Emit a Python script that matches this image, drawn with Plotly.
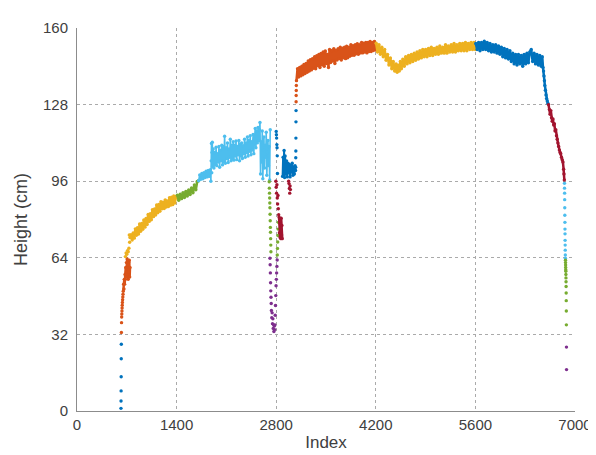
import plotly.graph_objects as go

# ---------------- data (index, height in cm) ----------------
# left rising part
blue_a_x = [618, 619, 620, 621, 622, 623]
blue_a_y = [1.1, 4.2, 8.4, 14.3, 21.8, 27.9]

orange_a_dots_x = [624, 626, 628, 630, 632, 634, 636, 638, 641, 644, 647]
orange_a_dots_y = [32.8, 36.9, 39.3, 40.5, 41.8, 43.0, 44.2, 45.3, 46.5, 47.6, 48.8]
orange_a_x = [650, 655, 660, 665, 670, 675, 680, 685, 690, 695, 700, 705, 710, 715, 720, 725, 730, 735, 740, 745]
orange_a_y = [50, 53, 51, 55, 53, 57, 55, 60, 56, 62, 58, 63.5, 57, 61, 55, 62, 58, 63, 56, 60]

yellow_a_dots_x = [680, 690, 700, 710, 720, 730, 735, 740, 745]
yellow_a_dots_y = [64.5, 66, 65.5, 67, 66.5, 68, 73.5, 70.5, 72.5]
yellow_a_x = [760, 775, 790, 805, 820, 835, 850, 865, 880, 895, 910, 925, 940, 955, 970, 985, 1000,
              1015, 1030, 1045, 1060, 1075, 1090, 1105, 1120, 1135, 1150, 1165, 1180, 1195, 1210,
              1225, 1240, 1255, 1270, 1285, 1300, 1315, 1330, 1345, 1360, 1375, 1390, 1410]
yellow_a_y = [73.6, 71.4, 74.4, 72.2, 76.1, 73.4, 76.6, 73.9, 78.1, 75.1, 78.3, 75.9, 79.8, 76.8, 80.4, 77.9, 82.1,
              79.2, 82.4, 79.9, 84.1, 81.2, 84.4, 81.9, 86.1, 82.8, 86.3, 83.4, 87.4, 84.5, 87.2,
              84.6, 88.2, 85.2, 87.8, 85.4, 89.1, 86.0, 89.3, 86.2, 89.8, 86.9, 89.6, 89.0]

green_a_x = [1410, 1430, 1450, 1470, 1490, 1510, 1530, 1550, 1570, 1590, 1610, 1630, 1650, 1670, 1690, 1710]
green_a_y = [90.2, 88.0, 90.6, 88.7, 91.2, 89.2, 91.7, 89.8, 92.3, 90.4, 93.2, 91.2, 94.4, 92.4, 95.9, 96.2]

lightblue_a_x = [1710, 1725, 1740, 1755, 1770, 1785, 1800, 1815, 1830, 1845, 1860, 1875,
                 1882, 1886, 1890, 1894, 1898, 1902, 1906,
                 1915, 1925, 1935, 1945, 1955, 1965, 1975, 1985, 1995, 2005, 2015, 2025, 2035, 2045,
                 2055, 2065, 2075, 2085, 2095, 2105, 2115, 2125, 2135, 2145, 2155, 2165, 2175, 2185, 2195,
                 2205, 2215, 2225, 2235, 2245, 2255, 2265, 2275, 2285, 2295, 2305, 2315, 2325, 2335, 2345,
                 2355, 2365, 2375, 2385, 2395, 2405, 2415, 2425, 2435, 2445, 2455, 2465, 2475, 2485, 2495,
                 2505, 2515, 2525, 2535, 2545, 2555, 2565, 2572,
                 2580, 2588, 2596, 2604, 2612, 2620, 2628, 2636, 2644, 2652, 2660, 2668, 2676, 2684,
                 2692, 2700, 2708, 2716]
lightblue_a_y = [96.2, 98.6, 96.8, 99.2, 97.0, 99.6, 97.5, 100.2, 97.8, 100.5, 98.0, 100.8,
                 96.0, 104.5, 111.8, 99.5, 108.0, 112.3, 102.0,
                 109.5, 101.5, 108.0, 103.0, 110.2, 102.5, 107.5, 104.0, 110.5, 101.8, 109.0, 104.5, 111.0, 102.8,
                 110.5, 104.0, 114.8, 103.5, 110.0, 105.5, 112.0, 103.8, 109.5, 106.0, 113.5, 104.5, 111.0, 105.5, 112.5,
                 104.8, 111.0, 106.5, 112.8, 105.0, 110.5, 107.0, 113.0, 104.5, 111.5, 106.5, 112.0, 105.5, 110.8, 107.5,
                 113.5, 106.0, 112.0, 108.0, 114.5, 106.5, 113.0, 108.5, 115.0, 107.0, 112.5, 109.0, 115.5, 107.5, 113.5,
                 118.0, 110.0, 117.0, 112.0, 118.5, 113.0, 117.5, 120.5,
                 99.0, 112.5, 104.0, 117.0, 97.0, 109.0, 114.5, 101.5, 111.0, 106.0, 116.5, 98.5, 108.0, 113.0,
                 102.5, 110.5, 96.5, 117.5]

# middle dip
green_b_x = [2702, 2704, 2706, 2708, 2710, 2712, 2714, 2716, 2718, 2720, 2722, 2724, 2726]
green_b_y = [95.8, 93.1, 91.0, 89.0, 86.9, 84.9, 82.2, 79.5, 76.7, 74.7, 72.0, 69.3, 66.5]

purple_a_x = [2712, 2715, 2718, 2721, 2724, 2727, 2730,
              2733, 2738, 2743, 2748, 2753, 2758, 2763, 2768, 2773, 2778,
              2782, 2786, 2790, 2794, 2798, 2802, 2806, 2810, 2814]
purple_a_y = [63.8, 61.1, 57.7, 53.6, 50.2, 47.5, 44.9,
              42.0, 39.0, 41.0, 36.5, 38.5, 34.5, 36.0, 33.2, 35.5, 34.0,
              35.9, 40.0, 44.1, 48.2, 52.3, 55.0, 57.7, 60.4, 63.1]

green_c_x = [2815, 2818, 2821, 2824, 2827, 2830]
green_c_y = [65.2, 67.9, 70.6, 73.3, 76.0, 78.8]

darkred_a_dots_x = [2795, 2800, 2805, 2810, 2815, 2820, 2825, 2830, 2835, 2975, 2980, 2985, 2990, 2995, 3000]
darkred_a_dots_y = [96.0, 93.5, 91.0, 94.5, 89.0, 86.5, 90.0, 84.5, 82.0, 96.0, 95.0, 93.0, 91.0, 94.0, 92.5]
darkred_a_x = [2840, 2845, 2850, 2855, 2860, 2865, 2870, 2875, 2880, 2885]
darkred_a_y = [81.0, 74.5, 79.5, 72.5, 78.0, 72.0, 80.5, 73.5, 77.5, 72.0]

blue_b_dots_x = [2800, 2803, 2806, 2809, 2812, 2815, 2818, 3074, 3075, 3076, 3077, 3078, 3079]
blue_b_dots_y = [116.8, 115.4, 114.0, 111.3, 110.0, 106.6, 99.2, 101.8, 105.8, 108.6, 114.0, 120.8, 125.5]
blue_b_x = [2890, 2897, 2904, 2911, 2918, 2925, 2935, 2945, 2955, 2965, 2975, 2985, 2995, 3005, 3015,
            3025, 3035, 3045, 3055, 3065, 3072]
blue_b_y = [98.0, 106.0, 99.0, 108.8, 97.5, 106.5, 99.0, 104.5, 97.8, 103.5, 99.5, 103.0, 97.8, 102.5, 99.8,
            103.5, 98.5, 102.0, 99.0, 102.5, 100.5]

# upper plateau
orange_b_dots_x = [3080, 3081, 3082, 3083]
orange_b_dots_y = [129.2, 131.8, 133.9, 136.0]
orange_b_x = [3085, 3100, 3115, 3130, 3145, 3160, 3175, 3190, 3205, 3220, 3235, 3250, 3265, 3280, 3295,
              3310, 3325, 3340, 3355, 3370, 3385, 3400, 3415, 3430, 3445, 3460, 3475, 3490, 3505, 3520,
              3535, 3550, 3565, 3580, 3595, 3610, 3625, 3640, 3655, 3670, 3685, 3700, 3715, 3730, 3745,
              3760, 3775, 3790, 3805, 3820, 3835, 3850, 3865, 3880, 3895, 3910, 3925, 3940, 3955, 3970,
              3985, 4000, 4015, 4030, 4045, 4060, 4075, 4090, 4105, 4120, 4135, 4150, 4165, 4180, 4195]
orange_b_y = [138.0, 143.0, 139.5, 143.5, 140.0, 144.0, 140.5, 144.8, 141.0, 145.2, 141.5, 146.2, 142.0, 146.8, 142.5,
              147.2, 143.2, 148.0, 143.0, 148.4, 144.2, 149.0, 143.5, 149.4, 144.6, 150.0, 144.0, 150.4, 145.2, 149.0,
              143.5, 151.0, 145.6, 150.6, 146.2, 151.4, 145.2, 150.6, 146.6, 151.4, 147.2, 152.0, 146.6, 151.6, 147.6,
              152.0, 147.2, 152.4, 147.6, 152.0, 148.2, 153.0, 148.6, 152.6, 148.6, 153.0, 149.2, 153.4, 149.0, 153.0,
              149.6, 154.0, 149.6, 153.6, 150.0, 154.0, 149.6, 154.0, 150.2, 154.4, 150.2, 154.0, 150.6, 154.4, 150.8]

yellow_b_x = [4205, 4225, 4245, 4265, 4285, 4305, 4325, 4345, 4365, 4385, 4405, 4425, 4445, 4465, 4485,
              4500, 4515, 4530, 4545, 4560, 4580, 4600, 4620, 4640, 4660, 4680, 4700, 4720, 4740, 4760,
              4780, 4800, 4820, 4840, 4860, 4880, 4900, 4920, 4940, 4960, 4980, 5000, 5020, 5040, 5060,
              5080, 5100, 5120, 5140, 5160, 5180, 5200, 5220, 5240, 5260, 5280, 5300, 5320, 5340, 5360,
              5380, 5400, 5420, 5440, 5460, 5480, 5500, 5520, 5540, 5560, 5580, 5600]
yellow_b_y = [153.6, 150.0, 153.0, 149.0, 152.0, 148.0, 151.0, 146.5, 149.0, 144.5, 147.5, 143.0, 146.0, 142.0, 145.0,
              141.5, 144.5, 142.0, 146.0, 143.0, 147.0, 144.0, 148.0, 145.0, 148.5, 145.5, 149.0, 146.0, 149.5, 146.5,
              150.0, 147.0, 150.5, 147.5, 151.0, 148.0, 151.0, 148.0, 151.5, 148.5, 152.0, 148.5, 151.5, 149.0, 152.0,
              149.0, 152.5, 149.5, 152.0, 149.5, 153.0, 149.5, 152.5, 150.0, 153.0, 150.0, 153.5, 150.0, 153.0, 150.5,
              153.5, 150.5, 153.5, 150.5, 154.0, 150.5, 153.5, 151.0, 154.0, 151.0, 154.0, 151.0]

blue_c_x = [5605, 5625, 5645, 5665, 5685, 5705, 5725, 5745, 5765, 5785, 5805, 5825, 5845, 5865, 5885,
            5905, 5925, 5945, 5965, 5985, 6005, 6025, 6045, 6065, 6085, 6105, 6125, 6145, 6165, 6185,
            6205, 6225, 6245, 6265, 6285, 6305, 6325, 6345, 6365, 6385, 6405, 6425, 6445, 6465, 6485,
            6505, 6525, 6540, 6550, 6558, 6564, 6570, 6576, 6584, 6592, 6600, 6610, 6620]
blue_c_y = [153.5, 151.0, 154.0, 150.5, 154.0, 151.0, 154.5, 151.0, 154.0, 150.5, 153.5, 150.0, 153.0, 150.0, 153.0,
            149.5, 152.5, 149.0, 152.0, 148.0, 151.5, 147.5, 151.0, 147.0, 150.5, 146.0, 149.5, 145.0, 149.0, 144.5,
            149.0, 145.0, 148.5, 144.0, 149.0, 145.0, 149.5, 145.5, 150.0, 151.0, 146.0, 149.5, 145.0, 149.0, 144.5,
            148.5, 144.0, 148.0, 143.5, 142.0, 140.0, 138.0, 136.0, 134.0, 132.0, 130.5, 129.5, 128.5]

darkred_b_x = [6628, 6640, 6650, 6660, 6670, 6680, 6690, 6700, 6710, 6720, 6730, 6740, 6750, 6760,
               6770, 6780, 6790, 6800, 6810, 6820, 6830, 6840, 6845, 6850]
darkred_b_y = [128.0, 126.0, 124.0, 125.5, 122.5, 121.0, 122.0, 119.5, 120.0, 117.0, 117.5, 115.0, 113.5, 112.0,
               110.5, 109.0, 108.0, 107.5, 106.0, 105.0, 104.0, 101.0, 99.0, 96.5]

lightblue_b_x = [6852, 6853, 6854, 6855, 6856, 6857, 6858, 6859, 6860, 6861, 6862, 6863, 6864, 6865]
lightblue_b_y = [95.1, 93.1, 91.0, 88.3, 84.9, 81.8, 78.8, 76.0, 74.0, 71.3, 69.3, 67.2, 65.2, 63.8]

green_d_x = [6866, 6867, 6868, 6869, 6870, 6871, 6872, 6873, 6874, 6875, 6876, 6877, 6878, 6879]
green_d_y = [63.0, 62.0, 61.0, 60.0, 59.0, 58.4, 57.0, 55.6, 54.0, 52.0, 49.3, 46.1, 41.8, 36.0]

purple_b_x = [6880, 6881]
purple_b_y = [26.7, 17.3]

x_ticks = [0, 1400, 2800, 4200, 5600, 7000]
y_ticks = [0, 32, 64, 96, 128, 160]

# MATLAB default colour order
BLUE, ORANGE, YELLOW, PURPLE, GREEN, LBLUE, DRED = (
    "#0072BD", "#D95319", "#EDB120", "#7E2F8E", "#77AC30", "#4DBEEE", "#A2142F")

# (x, y, colour, line width or None for dots only)
segments = [
    (blue_a_x, blue_a_y, BLUE, None),
    (orange_a_dots_x, orange_a_dots_y, ORANGE, None),
    (orange_a_x, orange_a_y, ORANGE, 2.5),
    (yellow_a_dots_x, yellow_a_dots_y, YELLOW, None),
    (yellow_a_x, yellow_a_y, YELLOW, 2.5),
    (green_a_x, green_a_y, GREEN, 2.5),
    (lightblue_a_x, lightblue_a_y, LBLUE, 1.6),
    (green_b_x, green_b_y, GREEN, None),
    (purple_a_x, purple_a_y, PURPLE, None),
    (green_c_x, green_c_y, GREEN, None),
    (darkred_a_dots_x, darkred_a_dots_y, DRED, None),
    (darkred_a_x, darkred_a_y, DRED, 2.5),
    (blue_b_dots_x, blue_b_dots_y, BLUE, None),
    (blue_b_x, blue_b_y, BLUE, 2.0),
    (orange_b_dots_x, orange_b_dots_y, ORANGE, None),
    (orange_b_x, orange_b_y, ORANGE, 2.5),
    (yellow_b_x, yellow_b_y, YELLOW, 2.5),
    (blue_c_x, blue_c_y, BLUE, 2.5),
    (darkred_b_x, darkred_b_y, DRED, 2.5),
    (lightblue_b_x, lightblue_b_y, LBLUE, None),
    (green_d_x, green_d_y, GREEN, None),
    (purple_b_x, purple_b_y, PURPLE, None),
]

fig = go.Figure()
for xs, ys, col, lw in segments:
    fig.add_trace(go.Scatter(
        x=xs, y=ys,
        mode="markers" if lw is None else "lines+markers",
        line=dict(color=col, width=lw or 1),
        marker=dict(color=col, size=3.4),
        showlegend=False, hoverinfo="skip"))

font_family = "Liberation Sans, Arial, Helvetica, sans-serif"
axis_common = dict(
    showgrid=True, gridcolor="#aaaaaa", griddash="dot", gridwidth=1,
    showline=True, linecolor="#8c8c8c", linewidth=1,
    zeroline=False,
)

fig.update_layout(
    width=596, height=455,
    margin=dict(l=69, r=29, t=11, b=52),
    paper_bgcolor="white", plot_bgcolor="white",
    xaxis=dict(range=[0, 7000], tickvals=x_ticks, ticktext=[str(v) for v in x_ticks],
               ticks="", tickfont=dict(family=font_family, size=15, color="#404040"),
               title=dict(text="Index", font=dict(family=font_family, size=17, color="#404040"), standoff=4),
               **axis_common),
    yaxis=dict(range=[0, 160], tickvals=y_ticks, ticktext=[str(v) for v in y_ticks],
               ticks="outside", ticklen=5, tickcolor="rgba(0,0,0,0)",
               tickfont=dict(family=font_family, size=15, color="#404040"),
               title=dict(text="Height (cm)", font=dict(family=font_family, size=18, color="#404040"), standoff=10),
               **axis_common),
)

fig.write_html("out.html")
